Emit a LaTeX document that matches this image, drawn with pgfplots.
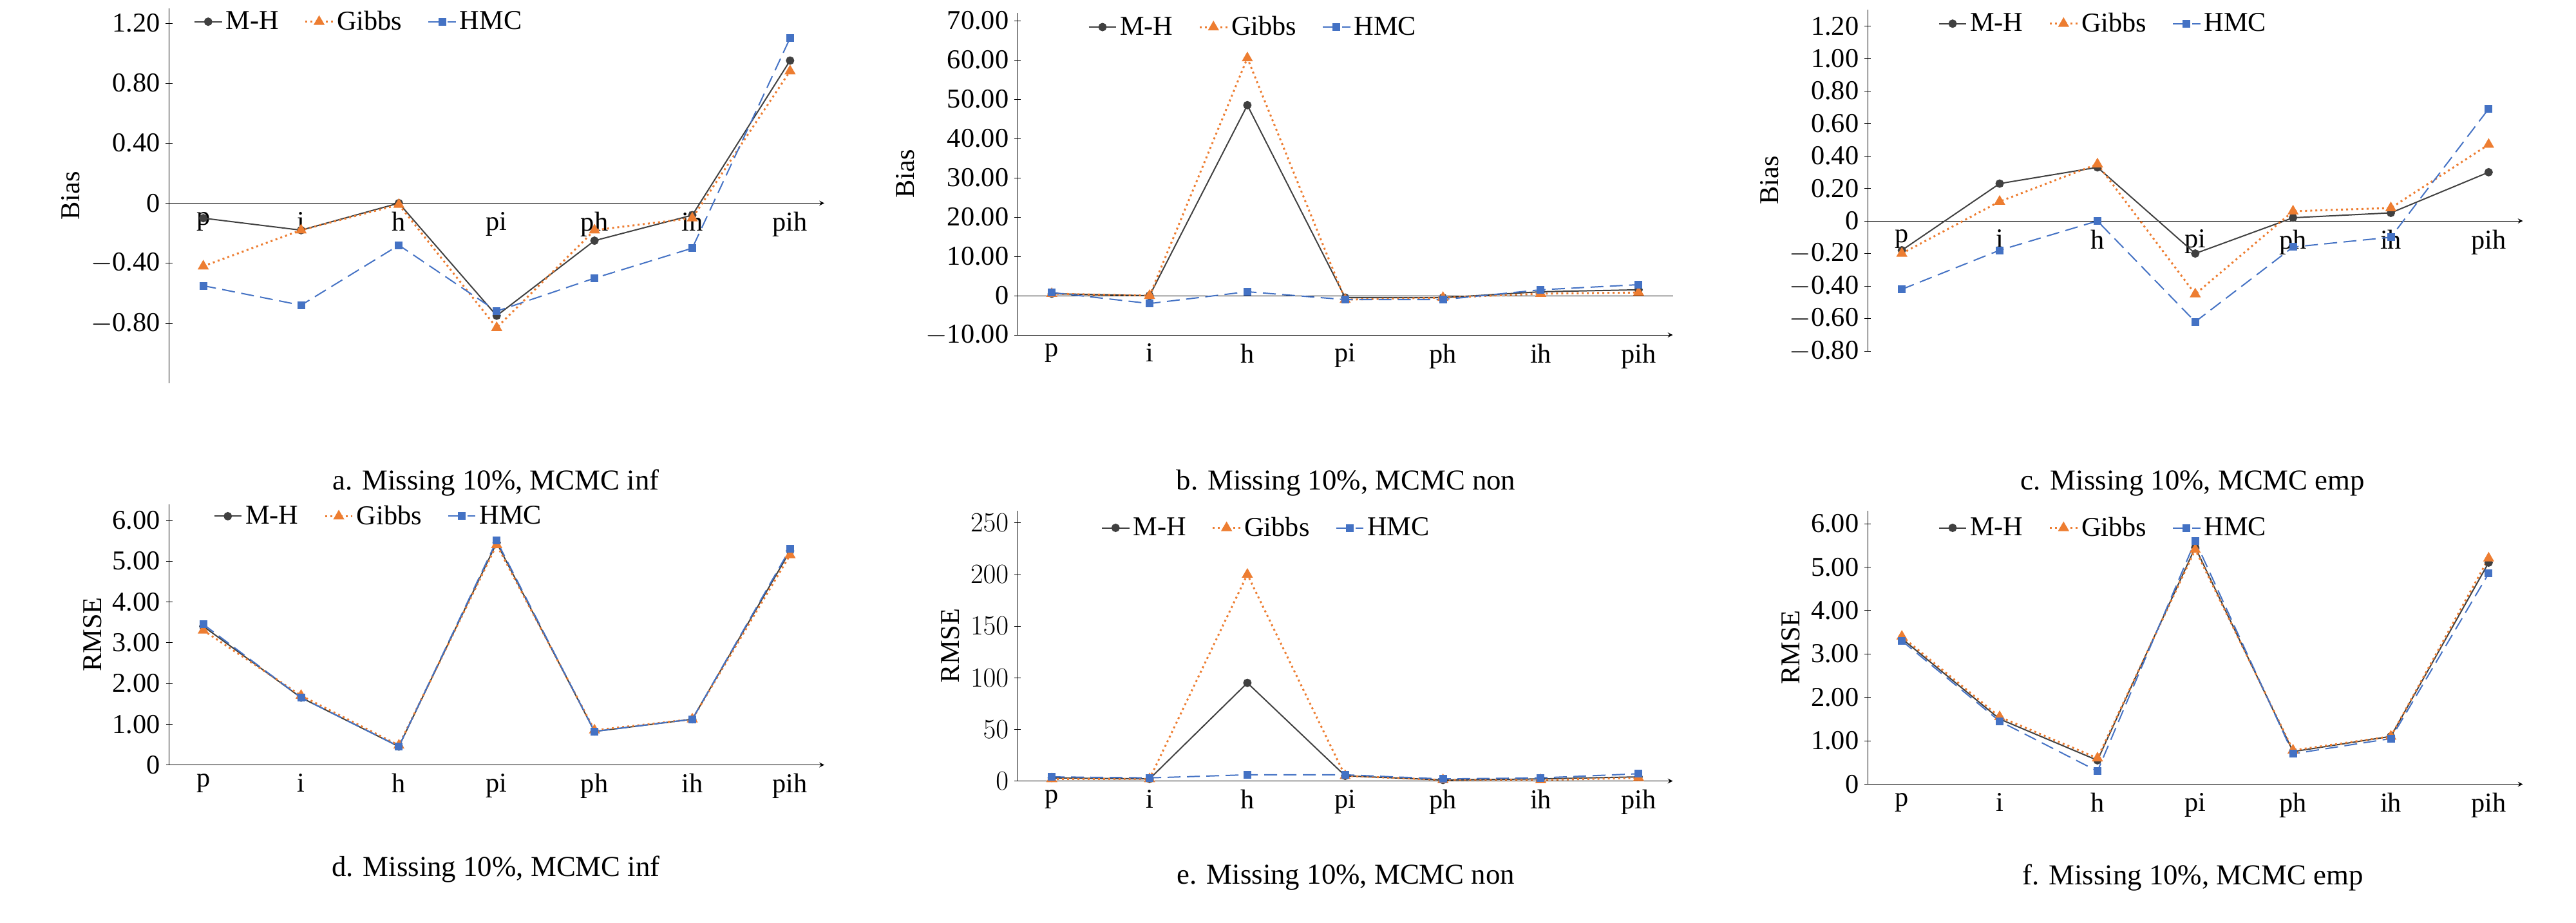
\documentclass[border=0pt]{standalone}
\usepackage{pgfplots}
\pgfplotsset{compat=1.18}
\usepackage{fontspec}
\setmainfont{Liberation Serif}
\definecolor{mh}{HTML}{404040}
\definecolor{gb}{HTML}{ED7D31}
\definecolor{hm}{HTML}{4472C4}
\pgfplotsset{
 panel/.style={scale only axis, width=407bp, xmin=-0.35, xmax=6.35,
  xtick={0,...,6}, xticklabels={p,i,h,pi,ph,ih,pih}, axis y line=left, axis line style={-, black},
  tick style={draw=none}, ytick style={draw=black}, major tick length=4bp,
  tick label style={font=\fontsize{17}{20}\selectfont},
  ylabel style={font=\fontsize{17}{20}\selectfont},
  legend style={draw=none, fill=none, font=\fontsize{17}{20}\selectfont, legend columns=3, /tikz/every even column/.append style={column sep=14bp}},
  legend cell align=left, clip=false},
 mhs/.style={mh, thick, mark=*, mark size=2.2bp},
 gbs/.style={gb, very thick, dotted, mark=triangle*, mark size=2.8bp, mark options={solid}},
 hms/.style={hm, thick, dashed, dash pattern=on 8bp off 4bp, mark=square*, mark size=2bp, mark options={solid}},
}
\newcommand\pcap[3]{\node[font=\fontsize{18}{21}\selectfont] at (#1bp,#2bp) {#3};}
\begin{document}
\begin{tikzpicture}
\path (0,0) rectangle (1600bp,-573bp);
% a
\begin{axis}[panel, at={(105bp,-238bp)}, anchor=south west, height=233bp, ymin=-1.2, ymax=1.3,
 axis x line=middle, ytick={-0.8,-0.4,0,0.4,0.8,1.2}, yticklabels={$-$0.80,$-$0.40,0,0.40,0.80,1.20},
 ylabel={Bias}, legend style={at={(0.03,1.01)}, anchor=north west}]
\addplot[mhs] coordinates {(0,-0.1)(1,-0.18)(2,0)(3,-0.75)(4,-0.25)(5,-0.08)(6,0.95)};
\addplot[gbs] coordinates {(0,-0.42)(1,-0.18)(2,-0.01)(3,-0.83)(4,-0.18)(5,-0.1)(6,0.88)};
\addplot[hms] coordinates {(0,-0.55)(1,-0.68)(2,-0.28)(3,-0.72)(4,-0.5)(5,-0.3)(6,1.1)};
\legend{M-H,Gibbs,HMC}
\end{axis}
% b
\begin{axis}[panel, at={(632bp,-208bp)}, anchor=south west, height=200bp, ymin=-10, ymax=72,
 axis x line=bottom, ytick={-10,0,...,70}, yticklabels={$-$10.00,0,10.00,20.00,30.00,40.00,50.00,60.00,70.00},
 ylabel={Bias}, legend style={at={(0.1,1.01)}, anchor=north west}]
\draw[black] (axis cs:-0.35,0)--(axis cs:6.35,0);
\addplot[mhs] coordinates {(0,0.5)(1,0)(2,48.5)(3,-0.5)(4,-0.5)(5,1)(6,1.5)};
\addplot[gbs] coordinates {(0,0.5)(1,0)(2,60.5)(3,-1)(4,-0.5)(5,0.5)(6,0.8)};
\addplot[hms] coordinates {(0,0.8)(1,-2)(2,1)(3,-1)(4,-1)(5,1.5)(6,2.8)};
\legend{M-H,Gibbs,HMC}
\end{axis}
% c
\begin{axis}[panel, at={(1160bp,-218bp)}, anchor=south west, height=212bp, ymin=-0.8, ymax=1.3,
 axis x line=middle, ytick={-0.8,-0.6,...,1.21}, yticklabels={$-$0.80,$-$0.60,$-$0.40,$-$0.20,0,0.20,0.40,0.60,0.80,1.00,1.20},
 ylabel={Bias}, legend style={at={(0.1,1.01)}, anchor=north west}]
\addplot[mhs] coordinates {(0,-0.18)(1,0.23)(2,0.33)(3,-0.2)(4,0.02)(5,0.05)(6,0.3)};
\addplot[gbs] coordinates {(0,-0.2)(1,0.12)(2,0.35)(3,-0.45)(4,0.06)(5,0.08)(6,0.47)};
\addplot[hms] coordinates {(0,-0.42)(1,-0.18)(2,0)(3,-0.62)(4,-0.16)(5,-0.1)(6,0.69)};
\legend{M-H,Gibbs,HMC}
\end{axis}
% d
\begin{axis}[panel, at={(105bp,-475bp)}, anchor=south west, height=162bp, ymin=0, ymax=6.4,
 axis x line=bottom, ytick={0,...,6}, yticklabels={0,1.00,2.00,3.00,4.00,5.00,6.00},
 ylabel={RMSE}, legend style={at={(0.06,1.02)}, anchor=north west}]
\addplot[mhs] coordinates {(0,3.4)(1,1.65)(2,0.45)(3,5.45)(4,0.82)(5,1.12)(6,5.25)};
\addplot[gbs] coordinates {(0,3.3)(1,1.7)(2,0.48)(3,5.4)(4,0.85)(5,1.12)(6,5.15)};
\addplot[hms] coordinates {(0,3.45)(1,1.65)(2,0.45)(3,5.5)(4,0.82)(5,1.12)(6,5.3)};
\legend{M-H,Gibbs,HMC}
\end{axis}
% e
\begin{axis}[panel, at={(632bp,-485bp)}, anchor=south west, height=168bp, ymin=0, ymax=262,
 axis x line=bottom, ytick={0,50,...,250}, ylabel={RMSE}, legend style={at={(0.12,1.0)}, anchor=north west}]
\addplot[mhs] coordinates {(0,3)(1,2)(2,95)(3,5)(4,1)(5,2)(6,4)};
\addplot[gbs] coordinates {(0,2)(1,2)(2,200)(3,5)(4,1)(5,1)(6,3)};
\addplot[hms] coordinates {(0,4)(1,3)(2,6)(3,6)(4,2)(5,3)(6,7)};
\legend{M-H,Gibbs,HMC}
\end{axis}
% f
\begin{axis}[panel, at={(1160bp,-487bp)}, anchor=south west, height=170bp, ymin=0, ymax=6.3,
 axis x line=bottom, ytick={0,...,6}, yticklabels={0,1.00,2.00,3.00,4.00,5.00,6.00},
 ylabel={RMSE}, legend style={at={(0.1,1.0)}, anchor=north west}]
\addplot[mhs] coordinates {(0,3.35)(1,1.5)(2,0.55)(3,5.45)(4,0.75)(5,1.1)(6,5.1)};
\addplot[gbs] coordinates {(0,3.4)(1,1.55)(2,0.6)(3,5.4)(4,0.78)(5,1.1)(6,5.2)};
\addplot[hms] coordinates {(0,3.3)(1,1.45)(2,0.3)(3,5.6)(4,0.7)(5,1.05)(6,4.85)};
\legend{M-H,Gibbs,HMC}
\end{axis}
\pcap{308}{-300}{a. Missing 10\%, MCMC inf}
\pcap{836}{-300}{b. Missing 10\%, MCMC non}
\pcap{1362}{-300}{c. Missing 10\%, MCMC emp}
\pcap{308}{-540}{d. Missing 10\%, MCMC inf}
\pcap{836}{-545}{e. Missing 10\%, MCMC non}
\pcap{1362}{-545}{f. Missing 10\%, MCMC emp}
\end{tikzpicture}
\end{document}
